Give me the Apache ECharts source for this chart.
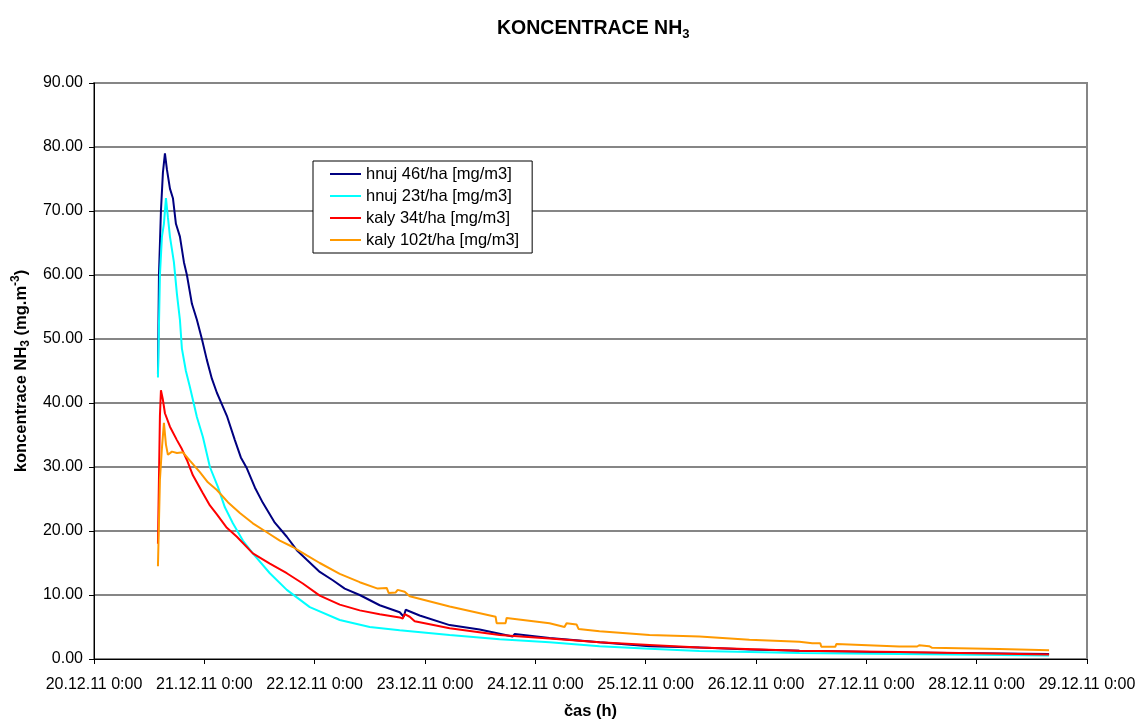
<!DOCTYPE html>
<html>
<head>
<meta charset="utf-8">
<script src="https://cdn.jsdelivr.net/npm/echarts@6/dist/echarts.min.js"></script>
<style>
html,body{margin:0;padding:0;background:#fff;}
#chart{width:1140px;height:722px;}
</style>
</head>
<body>
<div id="chart"></div>
<script>
// time = hours since 20.12.11 0:00
const xTickLabels = ['20.12.11 0:00','21.12.11 0:00','22.12.11 0:00','23.12.11 0:00','24.12.11 0:00','25.12.11 0:00','26.12.11 0:00','27.12.11 0:00','28.12.11 0:00','29.12.11 0:00'];
const seriesNames = ['hnuj 46t/ha [mg/m3]','hnuj 23t/ha [mg/m3]','kaly 34t/ha [mg/m3]','kaly 102t/ha [mg/m3]'];

const hnuj46Time = [13.91,14.13,14.56,14.99,15.43,15.86,16.52,17.17,17.82,18.69,19.56,20.21,21.30,22.38,23.47,24.56,25.64,26.73,27.82,28.90,30.64,31.94,33.25,34.99,36.73,39.33,41.94,44.11,46.29,49.11,51.94,54.54,57.80,62.15,66.50,67.37,67.80,70.84,77.36,83.88,91.05,91.49,99.09,109.96,120.83,131.70,142.56,153.43,175.15,191.45,207.75];
const hnuj46Value = [44.5,60,70,76,79,76.5,73.5,72,68,66,62,60,55.5,53,50,46.7,43.8,41.6,39.8,38,34.2,31.5,29.8,26.8,24.4,21.3,19.1,17,15.5,13.6,12.3,11,10,8.4,7.3,6.6,7.7,6.8,5.3,4.6,3.5,3.9,3.3,2.6,2.0,1.8,1.5,1.3,1.0,0.9,0.8];

const hnuj23Time = [13.91,14.34,14.78,15.21,15.65,16.08,16.52,16.95,17.38,18.04,18.69,19.12,19.99,20.86,21.51,22.38,23.69,25.21,26.95,28.47,30.21,32.38,34.55,38.25,41.94,46.94,53.46,59.98,66.50,77.36,88.23,99.09,109.96,120.83,131.70,153.43,175.15,207.75];
const hnuj23Value = [44,60,66,68,72,69,66,64,62,57,53,48.5,45,42.5,40.5,37.8,34.7,30,26.9,23.7,21.2,18.5,16.5,13.4,10.8,8.1,6.1,5.0,4.5,3.75,3.1,2.6,2.0,1.6,1.25,0.95,0.8,0.55];

const kaly34Time = [13.91,14.34,14.56,14.99,15.43,16.52,18.04,19.12,20.21,20.86,21.51,23.69,25.21,26.73,28.90,31.08,34.55,38.25,41.94,45.42,49.11,53.46,57.80,62.15,66.50,67.15,67.58,68.67,69.76,77.36,88.23,99.09,109.96,120.83,131.70,153.43,175.15,207.75];
const kaly34Value = [18,38,42,40.5,38.4,36.3,34.2,32.8,31.1,29.9,28.7,25.9,24,22.6,20.5,19.1,16.5,14.9,13.4,11.8,9.9,8.5,7.6,7.0,6.5,6.3,7.0,6.6,5.9,4.8,3.75,3.2,2.6,2.2,1.8,1.3,1.1,0.7];

const kaly102Time = [13.91,14.34,14.78,15.21,15.65,16.08,16.95,18.04,19.34,20.86,23.03,24.77,26.73,29.12,31.73,34.55,37.59,40.42,43.25,46.29,49.11,53.46,57.80,61.72,62.15,63.67,64.11,65.63,66.06,67.58,68.67,77.36,87.36,87.58,89.53,89.75,99.09,102.35,102.79,104.96,105.40,109.96,120.83,131.70,142.56,153.43,156.25,157.99,158.21,161.25,161.47,175.15,179.06,179.50,181.67,182.32,196.88,207.75];
const kaly102Value = [14.5,28,33,36.9,33.5,31.9,32.4,32.2,32.3,31,29.2,27.6,26.4,24.5,22.8,21.2,19.8,18.5,17.5,16.2,15,13.3,12,11.0,11.3,11.1,10.3,10.4,10.8,10.5,9.8,8.2,6.6,5.6,5.6,6.4,5.6,5.0,5.6,5.4,4.7,4.35,3.75,3.5,3.0,2.7,2.45,2.45,1.9,1.9,2.35,1.95,1.95,2.15,2.0,1.75,1.55,1.35];

const seriesColors = ['#000080','#00FFFF','#FF0000','#FF9900'];

function pairs(t, v){ return t.map((h,i)=>[h, v[i]]); }
const seriesData = [
  pairs(hnuj46Time, hnuj46Value),
  pairs(hnuj23Time, hnuj23Value),
  pairs(kaly34Time, kaly34Value),
  pairs(kaly102Time, kaly102Value)
];

const FONT = '"Liberation Sans", Arial, sans-serif';
const chart = echarts.init(document.getElementById('chart'), null, {renderer:'canvas'});
chart.setOption({
  animation: false,
  backgroundColor: '#ffffff',
  textStyle: {fontFamily: FONT, color: '#000'},
  title: {
    text: 'KONCENTRACE NH{sub|3}',
    left: 497, top: 17, padding: 0,
    textStyle: {
      fontFamily: FONT, fontSize: 19.5, fontWeight: 'bold', color: '#000', lineHeight: 24,
      rich: {sub: {fontFamily: FONT, fontSize: 13, fontWeight: 'bold', color: '#000', verticalAlign: 'bottom', lineHeight: 24}}
    }
  },
  legend: {
    orient: 'vertical',
    left: 313, top: 161,
    padding: [4.5, 13, 4.5, 17],
    backgroundColor: '#fff',
    borderColor: '#000', borderWidth: 1, borderRadius: 0,
    itemWidth: 31, itemHeight: 2, itemGap: 5,
    icon: 'rect',
    textStyle: {fontFamily: FONT, fontSize: 16.5, color: '#000', lineHeight: 16},
    data: seriesNames
  },
  grid: {
    left: 94, right: 53, top: 83, bottom: 63,
    containLabel: false, outerBoundsMode: 'none',
    show: true, borderColor: '#868686', borderWidth: 2, backgroundColor: '#fff'
  },
  xAxis: {
    type: 'value', min: 0, max: 216, interval: 24,
    name: 'čas (h)', nameLocation: 'middle', nameGap: 44,
    nameTextStyle: {fontFamily: FONT, fontSize: 16.5, fontWeight: 'bold', color: '#000'},
    axisLine: {show: true, lineStyle: {color: '#000', width: 1}},
    axisTick: {show: true, length: 5, lineStyle: {color: '#000'}},
    splitLine: {show: false},
    axisLabel: {
      margin: 18, fontFamily: FONT, fontSize: 16, color: '#000',
      showMinLabel: true, showMaxLabel: true, hideOverlap: false,
      formatter: v => xTickLabels[Math.round(v/24)]
    }
  },
  yAxis: {
    type: 'value', min: 0, max: 90, interval: 10,
    name: 'koncentrace NH{sub|3} (mg.m{sup|-3})', nameLocation: 'middle', nameGap: 61, nameRotate: 90,
    nameTextStyle: {
      fontFamily: FONT, fontSize: 16.5, fontWeight: 'bold', color: '#000', lineHeight: 22,
      rich: {
        sub: {fontFamily: FONT, fontSize: 12, fontWeight: 'bold', color: '#000', verticalAlign: 'bottom', lineHeight: 22},
        sup: {fontFamily: FONT, fontSize: 12, fontWeight: 'bold', color: '#000', verticalAlign: 'top', lineHeight: 22}
      }
    },
    axisLine: {show: true, lineStyle: {color: '#000', width: 1}},
    axisTick: {show: true, length: 5, lineStyle: {color: '#000'}},
    splitLine: {show: true, lineStyle: {color: '#868686', width: 2}},
    axisLabel: {margin: 11, fontFamily: FONT, fontSize: 16, color: '#000', formatter: v => v.toFixed(2)}
  },
  series: seriesNames.map((n, i) => ({
    name: n, type: 'line', data: seriesData[i],
    showSymbol: false, symbol: 'none',
    lineStyle: {color: seriesColors[i], width: 2},
    itemStyle: {color: seriesColors[i]},
    emphasis: {disabled: true}
  }))
});
</script>
</body>
</html>
